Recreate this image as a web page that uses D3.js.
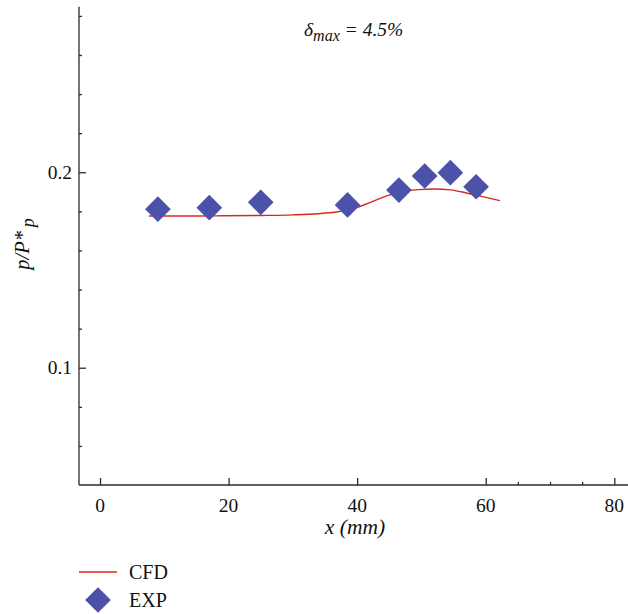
<!DOCTYPE html>
<html>
<head>
<meta charset="utf-8">
<script src="https://cdn.jsdelivr.net/npm/d3@7"></script>
<style>
  html, body { margin: 0; padding: 0; background: #fff; }
  svg { display: block; }
  text { font-family: "Liberation Serif", "DejaVu Serif", serif; fill: #111; }
</style>
</head>
<body>
<svg id="chart" width="628" height="614"></svg>
<script>
// CFD prediction of the pressure ratio along x
const cfdX = [7.6, 12, 18, 25, 30, 34, 37, 39.5, 42, 44.5, 47, 49.5, 52, 54.5, 57, 59.5, 62.2];
const cfdY = [0.1776, 0.1776, 0.1777, 0.1779, 0.1782, 0.1788, 0.1798, 0.1815, 0.1845, 0.1878, 0.1900, 0.1911, 0.1914, 0.1910, 0.1894, 0.1875, 0.1855];

// Experimental measurements
const expX = [9, 17, 25, 38.5, 46.5, 50.5, 54.5, 58.5];
const expY = [0.1811, 0.1819, 0.1846, 0.1833, 0.1909, 0.1981, 0.1998, 0.1926];

// Axis ticks
const xTickValues = [0, 20, 40, 60, 80];
const xMinorTicks = [65, 70, 75];
const yTickValues = [0.1, 0.2];
const yMinorTicks = [0.06, 0.08, 0.12, 0.14, 0.16, 0.18, 0.22, 0.24, 0.26, 0.28];

const legendLabels = ["CFD", "EXP"];

const lineColor = "#d8291f";
const markColor = "#4c51a9";
const axisColor = "#2b2b2b";

const svg = d3.select("#chart");

const x = d3.scaleLinear().domain([-3.27, 82.13]).range([79, 628]);
const y = d3.scaleLinear().domain([0.04, 0.2847]).range([485, 6.7]);

// Axes: ticks point into the plot area
const xAxis = d3.axisTop(x).tickValues(xTickValues).tickSize(7).tickFormat(d3.format("d"));
const gx = svg.append("g").attr("transform", `translate(0,${y(0.04)})`).call(xAxis);
gx.select(".domain").attr("d", `M${x.range()[0]},0H${x.range()[1]}`);
gx.selectAll(".tick text").remove();
svg.append("g").attr("transform", `translate(0,${y(0.04)})`)
  .call(d3.axisTop(x).tickValues(xMinorTicks).tickSize(3).tickFormat(""))
  .select(".domain").remove();

const yAxis = d3.axisRight(y).tickValues(yTickValues).tickSize(7);
const gy = svg.append("g").attr("transform", `translate(${x(-3.27)},0)`).call(yAxis);
gy.select(".domain").attr("d", `M0,${y.range()[1]}V${y.range()[0]}`);
gy.selectAll(".tick text").remove();
svg.append("g").attr("transform", `translate(${x(-3.27)},0)`)
  .call(d3.axisRight(y).tickValues(yMinorTicks).tickSize(3).tickFormat(""))
  .select(".domain").remove();

svg.selectAll(".domain, .tick line").attr("stroke", axisColor).attr("stroke-width", 1.3);

// Tick labels, outside the axes
svg.append("g").selectAll("text").data(xTickValues).join("text")
  .attr("x", d => x(d)).attr("y", y(0.04) + 27)
  .attr("text-anchor", "middle").attr("font-size", 19.5)
  .text(d => d);

svg.append("g").selectAll("text").data(yTickValues).join("text")
  .attr("x", x(-3.27) - 7).attr("y", d => y(d) + 6.5)
  .attr("text-anchor", "end").attr("font-size", 19.5)
  .text(d => d3.format(".1f")(d));

// Axis titles
svg.append("text")
  .attr("x", 355).attr("y", 534)
  .attr("text-anchor", "middle").attr("font-size", 21.5).attr("font-style", "italic")
  .text("x (mm)");

const yTitle = svg.append("text")
  .attr("transform", "translate(29,244) rotate(-90)")
  .attr("text-anchor", "middle").attr("font-size", 20.5).attr("font-style", "italic");
yTitle.append("tspan").text("p/P*");
yTitle.append("tspan").attr("dy", 5).attr("font-size", 18).text("\u2009p");

// Annotation
const note = svg.append("text")
  .attr("x", 304).attr("y", 36)
  .attr("font-size", 19.5).attr("font-style", "italic");
note.append("tspan").text("δ");
note.append("tspan").attr("dy", 5).attr("font-size", 16).text("max");
note.append("tspan").attr("dy", -5).text(" = 4.5%");

// CFD curve
const line = d3.line()
  .x((d, i) => x(cfdX[i]))
  .y(d => y(d))
  .curve(d3.curveMonotoneX);
svg.append("path")
  .datum(cfdY)
  .attr("d", line)
  .attr("fill", "none")
  .attr("stroke", lineColor)
  .attr("stroke-width", 1.4);

// Experimental diamonds
const diamond = d3.symbol().type(d3.symbolSquare).size(330);
svg.append("g").selectAll("path").data(expY).join("path")
  .attr("d", diamond)
  .attr("transform", (d, i) => `translate(${x(expX[i])},${y(d)}) rotate(45)`)
  .attr("fill", markColor);

// Legend
const legend = svg.append("g");
legend.append("line")
  .attr("x1", 79).attr("x2", 117).attr("y1", 572).attr("y2", 572)
  .attr("stroke", lineColor).attr("stroke-width", 1.4);
legend.append("path")
  .attr("d", diamond)
  .attr("transform", "translate(98,600) rotate(45)")
  .attr("fill", markColor);
legend.selectAll("text").data(legendLabels).join("text")
  .attr("x", 129).attr("y", (d, i) => 578.5 + i * 28)
  .attr("font-size", 20)
  .text(d => d);
</script>
</body>
</html>
